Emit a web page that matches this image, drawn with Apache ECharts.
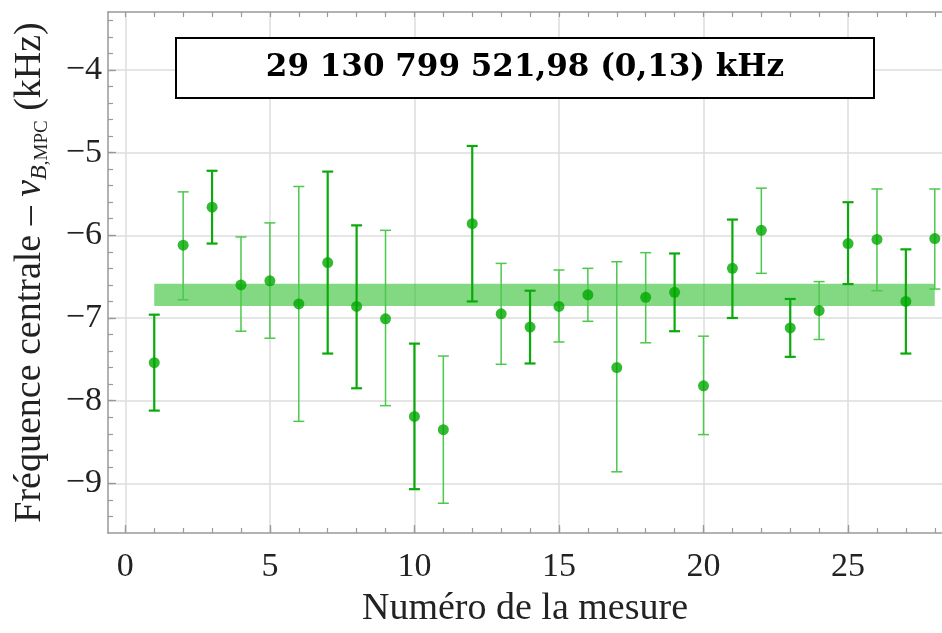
<!DOCTYPE html>
<html>
<head>
<meta charset="utf-8">
<script src="https://cdn.jsdelivr.net/npm/echarts@6/dist/echarts.min.js"></script>
<style>
  html, body { margin: 0; padding: 0; background: #fff; }
  #chart { width: 942px; height: 633px; }
</style>
</head>
<body>
<div id="chart"></div>
<script>
// mesure index
const mesures = [1, 2, 3, 4, 5, 6, 7, 8, 9, 10, 11, 12, 13, 14, 15, 16, 17, 18, 19, 20, 21, 22, 23, 24, 25, 26, 27, 28];
// central frequency minus nu_B,MPC (kHz)
const centres = [-7.54, -6.12, -5.66, -6.60, -6.55, -6.83, -6.33, -6.86, -7.01, -8.19, -8.35, -5.86, -6.95, -7.11,
                 -6.86, -6.72, -7.60, -6.75, -6.69, -7.82, -6.40, -5.94, -7.12, -6.91, -6.10, -6.05, -6.80, -6.04];
const hauts = [-6.96, -5.475, -5.22, -6.02, -5.85, -5.41, -5.23, -5.88, -5.94, -7.31, -7.46, -4.92, -6.34, -6.67,
               -6.42, -6.40, -6.32, -6.21, -6.22, -7.22, -5.81, -5.43, -6.77, -6.56, -5.60, -5.44, -6.17, -5.44];
const bas = [-8.12, -6.78, -6.10, -7.16, -7.245, -8.25, -7.43, -7.85, -8.06, -9.07, -9.24, -6.80, -7.56, -7.55,
             -7.29, -7.04, -8.86, -7.30, -7.16, -8.41, -7.00, -6.46, -7.47, -7.26, -6.59, -6.67, -7.43, -6.65];
// which measurements are drawn with the heavier bar
const fort = [1, 0, 1, 0, 0, 0, 1, 1, 0, 1, 0, 1, 0, 1, 0, 0, 0, 0, 1, 0, 1, 0, 1, 0, 1, 0, 1, 0];

// weighted mean band
const bandeX = [1, 28];
const bandeY = [-6.855, -6.585];
const resultat = '29 130 799 521,98 (0,13) kHz';

const xLabels = [0, 5, 10, 15, 20, 25];
const xMinor = [0, 1, 2, 3, 4, 5, 6, 7, 8, 9, 10, 11, 12, 13, 14, 15, 16, 17, 18, 19, 20, 21, 22, 23, 24, 25, 26, 27, 28];
const yLabels = [-9, -8, -7, -6, -5, -4];
const yMinor = [-9.4, -9.2, -9, -8.8, -8.6, -8.4, -8.2, -8, -7.8, -7.6, -7.4, -7.2, -7, -6.8, -6.6, -6.4, -6.2,
                -6, -5.8, -5.6, -5.4, -5.2, -5, -4.8, -4.6, -4.4, -4.2, -4, -3.8, -3.6, -3.4];

const SERIF = '"Liberation Serif", "DejaVu Serif", serif';
const AXIS_COL = '#999';
const X_MIN = -0.6, X_MAX = 28.25, Y_MIN = -9.6, Y_MAX = -3.3;

const barData = mesures.map((m, i) => [m, bas[i], hauts[i], fort[i]]);
const pointData = mesures.map((m, i) => [m, centres[i]]);

function renderBar(params, api) {
  const x = api.value(0);
  const lo = api.coord([x, api.value(1)]);
  const hi = api.coord([x, api.value(2)]);
  const strong = api.value(3) === 1;
  const style = {
    stroke: strong ? '#0aaa0a' : '#4cc84c',
    lineWidth: strong ? 2.2 : 1.5
  };
  const cap = 5.5;
  return {
    type: 'group',
    children: [
      { type: 'line', shape: { x1: lo[0], y1: lo[1], x2: hi[0], y2: hi[1] }, style: style },
      { type: 'line', shape: { x1: lo[0] - cap, y1: lo[1], x2: lo[0] + cap, y2: lo[1] }, style: style },
      { type: 'line', shape: { x1: hi[0] - cap, y1: hi[1], x2: hi[0] + cap, y2: hi[1] }, style: style }
    ]
  };
}

function renderBand(params, api) {
  const a = api.coord([api.value(0), api.value(3)]);
  const b = api.coord([api.value(1), api.value(2)]);
  return {
    type: 'rect',
    shape: { x: a[0], y: a[1], width: b[0] - a[0], height: b[1] - a[1] },
    style: { fill: 'rgba(40,190,40,0.58)' }
  };
}

function minus(v) {
  return v < 0 ? '\u2212' + Math.abs(v) : String(v);
}

const baseX = { type: 'value', min: X_MIN, max: X_MAX, gridIndex: 0 };
const baseY = { type: 'value', min: Y_MIN, max: Y_MAX, gridIndex: 0 };

const option = {
  animation: false,
  backgroundColor: '#fff',
  grid: { left: 108, top: 12, right: -2, bottom: 100, show: false },
  xAxis: [
    Object.assign({}, baseX, {
      position: 'bottom',
      name: 'Numéro de la mesure',
      nameLocation: 'middle',
      nameGap: 57,
      nameTextStyle: { fontFamily: SERIF, fontSize: 38, color: '#222' },
      axisLine: { show: true, onZero: false, lineStyle: { color: AXIS_COL, width: 1.5 } },
      axisTick: { show: true, inside: true, length: 8, customValues: xLabels, lineStyle: { color: AXIS_COL, width: 1.3 } },
      axisLabel: { customValues: xLabels, fontFamily: SERIF, fontSize: 34, color: '#222', margin: 17 },
      splitLine: { show: true, lineStyle: { color: '#dcdcdc', width: 1.5 } }
    }),
    Object.assign({}, baseX, {
      position: 'bottom',
      axisLine: { show: false, onZero: false },
      axisTick: { show: true, inside: true, length: 5, customValues: xMinor, lineStyle: { color: AXIS_COL, width: 1.2 } },
      axisLabel: { show: false },
      splitLine: { show: false }
    }),
    Object.assign({}, baseX, {
      position: 'top',
      axisLine: { show: true, onZero: false, lineStyle: { color: AXIS_COL, width: 1.5 } },
      axisTick: { show: true, inside: true, length: 5, customValues: xMinor, lineStyle: { color: AXIS_COL, width: 1.2 } },
      axisLabel: { show: false },
      splitLine: { show: false }
    })
  ],
  yAxis: [
    Object.assign({}, baseY, {
      position: 'left',
      name: '{n|Fréquence centrale – }{i|ν}{bi|B}{s|,MPC}{n| (kHz)}',
      nameLocation: 'middle',
      nameGap: 56,
      nameTextStyle: {
        fontFamily: SERIF, fontSize: 38, color: '#222',
        rich: {
          n: { fontFamily: SERIF, fontSize: 38, color: '#222', lineHeight: 44 },
          i: { fontFamily: SERIF, fontSize: 38, fontStyle: 'italic', color: '#222', lineHeight: 44 },
          bi: { fontFamily: SERIF, fontSize: 24, fontStyle: 'italic', color: '#222', verticalAlign: 'bottom', lineHeight: 22 },
          s: { fontFamily: SERIF, fontSize: 19, color: '#222', verticalAlign: 'bottom', lineHeight: 22 }
        }
      },
      axisLine: { show: true, onZero: false, lineStyle: { color: AXIS_COL, width: 1.5 } },
      axisTick: { show: true, inside: true, length: 8, customValues: yLabels, lineStyle: { color: AXIS_COL, width: 1.3 } },
      axisLabel: { customValues: yLabels, formatter: minus, fontFamily: SERIF, fontSize: 34, color: '#222', margin: 6 },
      splitLine: { show: true, lineStyle: { color: '#dcdcdc', width: 1.5 } }
    }),
    Object.assign({}, baseY, {
      position: 'left',
      axisLine: { show: false, onZero: false },
      axisTick: { show: true, inside: true, length: 5, customValues: yMinor, lineStyle: { color: AXIS_COL, width: 1.2 } },
      axisLabel: { show: false },
      splitLine: { show: false }
    })
  ],
  graphic: [
    {
      type: 'rect',
      left: 175, top: 37,
      shape: { width: 698, height: 60 },
      style: { fill: '#fff', stroke: '#000', lineWidth: 2 },
      z: 100
    },
    {
      type: 'text',
      x: 525, y: 68,
      style: {
        text: resultat,
        fontFamily: '"DejaVu Serif", serif', fontWeight: 'bold', fontSize: 31, fill: '#000',
        align: 'center', verticalAlign: 'middle'
      },
      z: 101
    }
  ],
  series: [
    {
      type: 'custom',
      name: 'moyenne',
      xAxisIndex: 0, yAxisIndex: 0,
      renderItem: renderBand,
      data: [[bandeX[0], bandeX[1], bandeY[0], bandeY[1]]],
      z: 1,
      silent: true
    },
    {
      type: 'custom',
      name: 'barres',
      xAxisIndex: 0, yAxisIndex: 0,
      renderItem: renderBar,
      data: barData,
      z: 2
    },
    {
      type: 'scatter',
      name: 'mesures',
      xAxisIndex: 0, yAxisIndex: 0,
      symbol: 'circle',
      symbolSize: 11,
      itemStyle: { color: '#00a800' },
      data: pointData,
      z: 3
    }
  ]
};

const chart = echarts.init(document.getElementById('chart'));
chart.setOption(option);
window.addEventListener('resize', () => chart.resize());
</script>
</body>
</html>
